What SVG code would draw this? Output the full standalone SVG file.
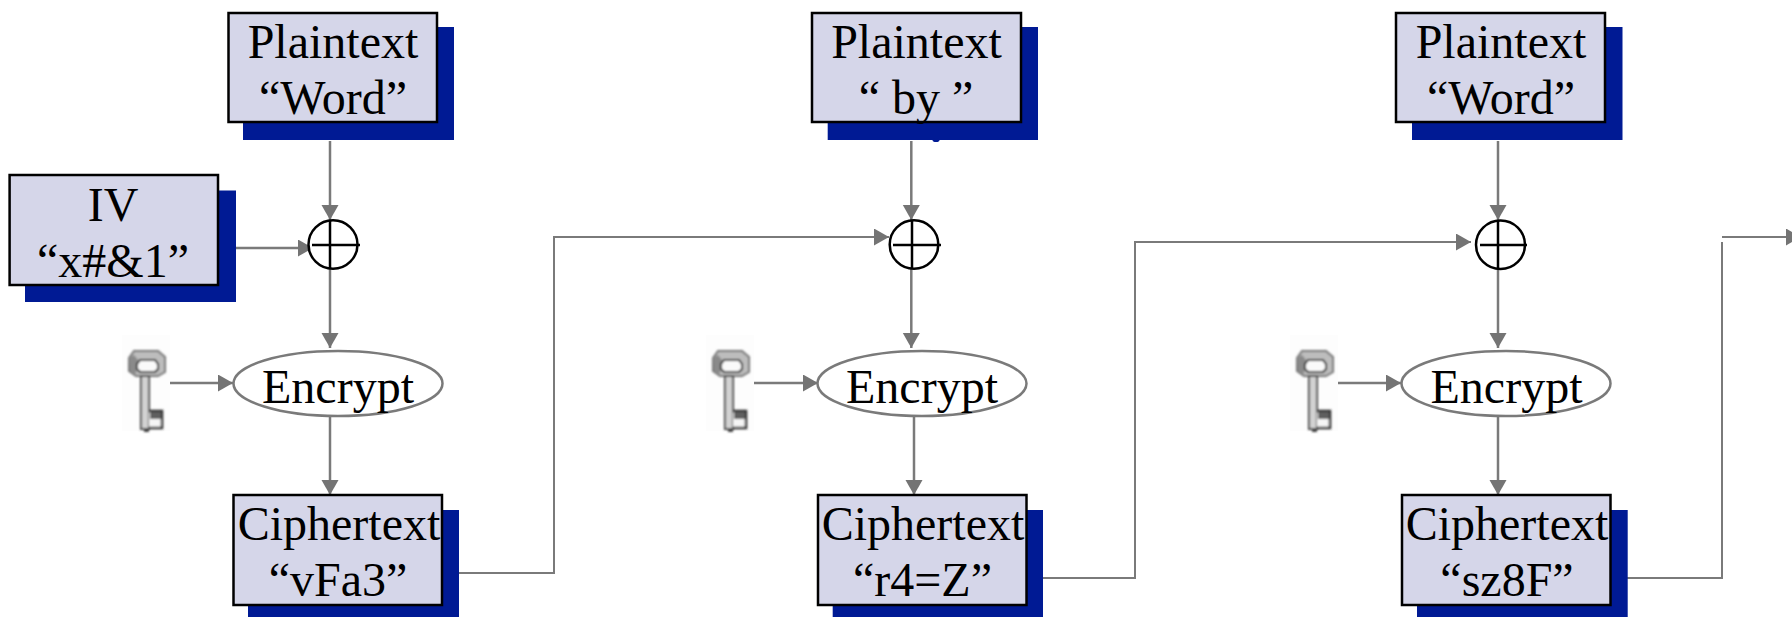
<svg xmlns="http://www.w3.org/2000/svg" width="1792" height="617" viewBox="0 0 1792 617">
<style>
text{font-family:"Liberation Serif","Times New Roman",serif;font-size:48px;fill:#000;text-anchor:middle}
.shadow{fill:#001a94}
.box{fill:#d5d6e9;stroke:#000;stroke-width:2.5}
.enc{fill:#fff;stroke:#7a7a7a;stroke-width:2.5}
.xor{fill:#fff;stroke:#000;stroke-width:2.5}
.cross{stroke:#000;stroke-width:2.5;fill:none}
.c{fill:none;stroke:#7a7a7a;stroke-width:2.5;marker-end:url(#arrow)}
.n{fill:none;stroke:#7a7a7a;stroke-width:2}
.t{fill:none;stroke:#7a7a7a;stroke-width:2;marker-end:url(#arrow)}
</style>
<defs>
<marker id="arrow" markerUnits="userSpaceOnUse" markerWidth="16" markerHeight="18" refX="15" refY="8.5" orient="auto">
<path d="M0 0L15 8.5L0 17Z" fill="#747474"/>
</marker>
<filter id="soft" x="-15%" y="-15%" width="130%" height="130%"><feGaussianBlur stdDeviation="1"/></filter>
<g id="key">
<rect x="122" y="335" width="48" height="96" fill="#fdfdfd"/>
<g filter="url(#soft)">
<path d="M134 351H158L165 357V372L158 376H136L129 371V358Z" fill="#bdbdbd" stroke="#777" stroke-width="2"/>
<path d="M129 358L134 355L138 360L136 374L130 371Z" fill="#8a8a8a"/>
<path d="M140 360H155L158 364V369L155 372H140L137 369V364Z" fill="#fafafa" stroke="#2a2a2a" stroke-width="2"/>
<rect x="141" y="376" width="8" height="53" fill="#d2d2d2" stroke="#4a4a4a" stroke-width="2"/>
<path d="M149 411H162V428H149" fill="#f5f5f5" stroke="#333" stroke-width="2.5"/>
<rect x="150" y="412" width="11" height="7" fill="#5e5e5e"/>
<rect x="144" y="429" width="5" height="3" fill="#444"/>
</g>
</g>
</defs>
<rect width="1792" height="617" fill="#fff"/>

<g id="connectors">
<path class="c" d="M330 141V220"/>
<path class="c" d="M235 248H313"/>
<path class="c" d="M330 269V348"/>
<path class="c" d="M170 383H233"/>
<path class="c" d="M330 416V495"/>
<path class="t" d="M459 573H554V237H889"/>
<path class="c" d="M911.3 141V220"/>
<path class="c" d="M911.3 269V348"/>
<path class="c" d="M754 383H818"/>
<path class="c" d="M914 416V495"/>
<path class="t" d="M1040 578H1135V242H1471"/>
<path class="c" d="M1498 141V220"/>
<path class="c" d="M1498 269V348"/>
<path class="c" d="M1338 383H1401"/>
<path class="c" d="M1498 416V495"/>
<path class="n" d="M1626 578H1722V242"/>
<path class="t" d="M1722 237H1801"/>
</g>

<g id="plain1"><rect class="shadow" x="243" y="27" width="211" height="113"/><rect class="box" x="228.5" y="13" width="208.5" height="109"/><text x="333" y="58">Plaintext</text><text x="333" y="114">“Word”</text></g>
<g id="iv"><rect class="shadow" x="25" y="190.5" width="211" height="111.5"/><rect class="box" x="9.6" y="175" width="208.4" height="110"/><text x="113" y="221">IV</text><text x="113" y="277">“x#&amp;1”</text></g>
<g id="xor1"><ellipse class="xor" cx="333" cy="244.5" rx="24.5" ry="24.3"/><path class="cross" d="M312 245H360M330 220V269"/></g>
<g id="key1"><use href="#key"/></g>
<g id="enc1"><ellipse class="enc" cx="338" cy="383.5" rx="104.5" ry="32.5"/><text x="338" y="402.7">Encrypt</text></g>
<g id="cipher1"><rect class="shadow" x="248" y="510" width="211" height="107"/><rect class="box" x="233.5" y="495" width="208.5" height="110"/><text x="339" y="540">Ciphertext</text><text x="338" y="596">“vFa3”</text></g>

<g id="plain2"><rect class="shadow" x="827.7" y="27" width="210.3" height="113"/><ellipse class="shadow" cx="936" cy="140" rx="3.5" ry="2"/><rect class="box" x="812" y="13" width="209" height="109"/><text x="916.5" y="58">Plaintext</text><text x="916" y="114" xml:space="preserve">“ by ”</text></g>
<g id="xor2"><ellipse class="xor" cx="914" cy="244.5" rx="24.3" ry="24.3"/><path class="cross" d="M893 245H941M912 220V269"/></g>
<g id="key2"><use href="#key" x="584"/></g>
<g id="enc2"><ellipse class="enc" cx="922" cy="383.5" rx="104.5" ry="32.5"/><text x="922" y="402.7">Encrypt</text></g>
<g id="cipher2"><rect class="shadow" x="832.7" y="510" width="210.3" height="107"/><rect class="box" x="818" y="495" width="208.5" height="110"/><text x="923" y="540">Ciphertext</text><text x="922.5" y="596">“r4=Z”</text></g>

<g id="plain3"><rect class="shadow" x="1412" y="27" width="210.5" height="113"/><rect class="box" x="1396" y="13" width="209" height="109"/><text x="1501" y="58">Plaintext</text><text x="1501" y="114">“Word”</text></g>
<g id="xor3"><ellipse class="xor" cx="1500.5" cy="244.8" rx="24.5" ry="24.3"/><path class="cross" d="M1480 245H1527M1498 220V269"/></g>
<g id="key3"><use href="#key" x="1168"/></g>
<g id="enc3"><ellipse class="enc" cx="1506" cy="383.5" rx="104.5" ry="32.5"/><text x="1506.5" y="402.7">Encrypt</text></g>
<g id="cipher3"><rect class="shadow" x="1417" y="510" width="210.7" height="107"/><rect class="box" x="1402" y="495" width="208.5" height="110"/><text x="1507" y="540">Ciphertext</text><text x="1507" y="596">“sz8F”</text></g>
</svg>
